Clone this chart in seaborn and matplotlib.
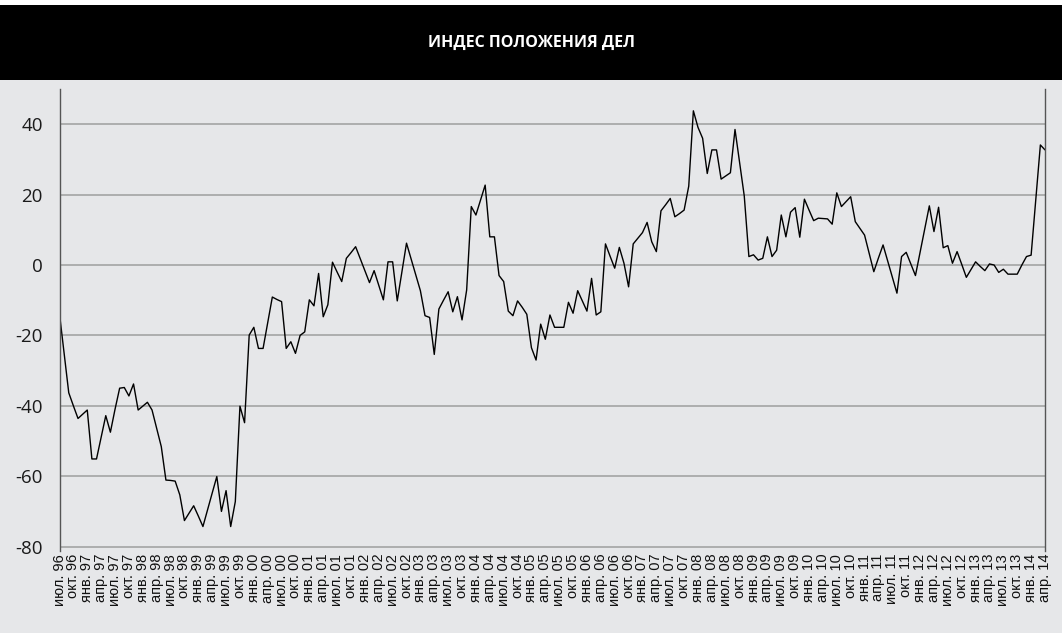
import matplotlib
matplotlib.use("Agg")
import matplotlib.pyplot as plt
import seaborn as sns
import pandas as pd
from matplotlib.patches import Rectangle

# Monthly business-conditions index, July 1996 .. April 2014
values = [
    -13.9, -25.0, -36.3, -40.0, -43.6, -42.4, -41.2, -55.1, -55.1, -49.0,
    -42.8, -47.5, -41.0, -35.0, -34.8, -37.2, -33.8, -41.2, -40.1, -39.0,
    -41.2, -46.4, -51.6, -61.1, -61.2, -61.4, -65.3, -72.6, -70.5, -68.4,
    -71.3, -74.3, -69.5, -64.8, -60.1, -70.0, -64.1, -74.3, -67.2, -40.1,
    -44.8, -19.9, -17.7, -23.7, -23.7, -16.4, -9.1, -9.8, -10.4, -23.7,
    -21.8, -25.1, -20.0, -19.0, -9.9, -11.6, -2.4, -14.7, -11.3, 0.8,
    -2.0, -4.7, 1.9, 3.5, 5.2, 1.8, -1.6, -5.0, -1.6, -5.7,
    -9.9, 0.9, 0.9, -10.2, -2.0, 6.2, 1.7, -2.8, -7.3, -14.4,
    -14.9, -25.4, -12.5, -10.0, -7.6, -13.3, -9.0, -15.6, -7.1, 16.6,
    14.2, 18.5, 22.7, 8.0, 8.0, -3.0, -4.7, -13.1, -14.4, -10.2,
    -12.0, -14.0, -23.5, -27.0, -16.8, -21.1, -14.2, -17.7, -17.7, -17.7,
    -10.6, -13.7, -7.3, -10.2, -13.1, -3.8, -14.2, -13.3, 6.0, 2.5,
    -0.9, 5.0, 0.5, -6.2, 6.0, 7.6, 9.2, 12.1, 6.6, 3.8,
    15.4, 17.1, 18.9, 13.7, 14.6, 15.6, 22.4, 43.8, 39.1, 36.0,
    26.0, 32.7, 32.7, 24.4, 25.3, 26.2, 38.5, 29.0, 19.6, 2.4,
    2.9, 1.4, 1.9, 8.0, 2.4, 4.2, 14.2, 8.0, 15.0, 16.3,
    7.9, 18.7, 15.6, 12.6, 13.3, 13.2, 13.1, 11.6, 20.5, 16.6,
    18.0, 19.4, 12.3, 10.4, 8.5, 3.3, -1.9, 2.0, 5.7, 1.1,
    -3.4, -8.0, 2.4, 3.6, 0.3, -3.0, 3.6, 10.2, 16.8, 9.5,
    16.4, 4.9, 5.5, 0.5, 3.8, 0.2, -3.5, -1.3, 0.9, -0.4,
    -1.6, 0.3, 0.0, -2.1, -1.2, -2.6, -2.6, -2.6, 0.0, 2.4,
    2.8, 18.5, 34.1, 32.7,
]
start_year = 1996
start_month = 7
month_abbr = {1: "янв.", 4: "апр.", 7: "июл.", 10: "окт."}
y_ticks = [-80, -60, -40, -20, 0, 20, 40]
title = "ИНДЕС ПОЛОЖЕНИЯ ДЕЛ"

n = len(values)
df = pd.DataFrame({"idx": list(range(n)), "value": values})
tick_pos = list(range(0, n, 3))
tick_labels = []
for i in tick_pos:
    m = (start_month - 1 + i) % 12 + 1
    y = start_year + (start_month - 1 + i) // 12
    tick_labels.append(f"{month_abbr[m]} {y % 100:02d}")

sns.set_style("white")
plt.rcParams["font.family"] = ["Open Sans", "DejaVu Sans"]

BG = "#e6e7e9"
GRID = "#a9a9a9"
W, H = 1062, 633
fig = plt.figure(figsize=(W / 100, H / 100), dpi=100, facecolor=BG)

# title band
fig.add_artist(Rectangle((0, 1 - 80 / H), 1, 75 / H, transform=fig.transFigure,
                         facecolor="black", edgecolor="none", zorder=0))
fig.add_artist(Rectangle((0, 1 - 5 / H), 1, 5 / H, transform=fig.transFigure,
                         facecolor="white", edgecolor="none", zorder=0))
fig.text(0.5, 1 - 43 / H, title, color="white", fontweight="bold",
         fontsize=11.5, ha="center", va="center", family=["Open Sans", "DejaVu Sans"])

left, right = 59.5, 1045.0
top, bottom = 89.0, 551.0
ax = fig.add_axes([left / W, (H - bottom) / H, (right - left) / W, (bottom - top) / H])
ax.set_facecolor(BG)

sns.lineplot(data=df, x="idx", y="value", ax=ax, color="black", linewidth=1.0)

ax.set_xlim(0, n - 1)
ax.set_ylim(-81.25, 50)
ax.set_yticks(y_ticks)
ax.set_yticklabels([str(v) for v in y_ticks])
ax.yaxis.grid(True, color=GRID, linewidth=1.3)
ax.xaxis.grid(False)
ax.set_axisbelow(True)

ax.set_xticks(tick_pos)
ax.set_xticklabels(tick_labels, rotation=90, family=["Liberation Sans", "DejaVu Sans"],
                   fontsize=10.5, color="#111111")
ax.tick_params(axis="x", length=0, pad=2)
ax.tick_params(axis="y", length=5.4, color=GRID, width=1.3, pad=6.5,
               labelsize=13.5, labelcolor="#1a1a1a")
ax.set_xlabel("")
ax.set_ylabel("")

ax.spines["top"].set_visible(False)
ax.spines["bottom"].set_visible(False)
for s in ("left", "right"):
    ax.spines[s].set_color("#555555")
    ax.spines[s].set_linewidth(1.0)

fig.savefig("out.png", dpi=100, facecolor=BG)
